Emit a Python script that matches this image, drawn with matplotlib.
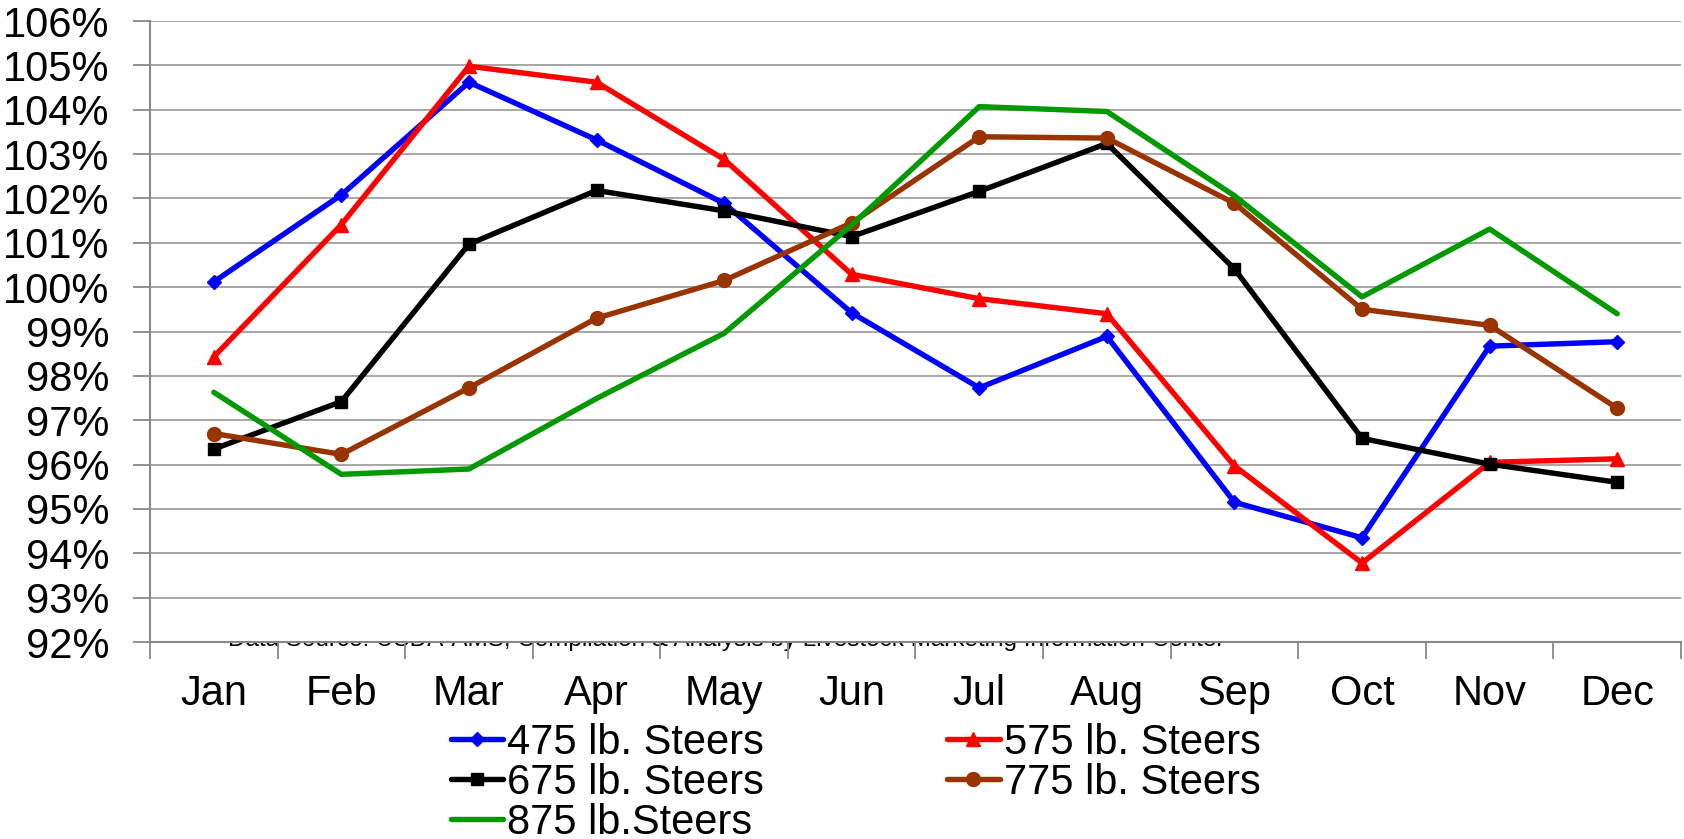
import matplotlib
matplotlib.use('Agg')
import matplotlib.pyplot as plt
from matplotlib.ticker import FixedLocator, FuncFormatter

plt.rcParams['font.family'] = ['Liberation Sans', 'DejaVu Sans']

months = ['Jan', 'Feb', 'Mar', 'Apr', 'May', 'Jun', 'Jul', 'Aug', 'Sep', 'Oct', 'Nov', 'Dec']

# seasonal price index, percent of annual average
steers_475 = [100.12, 102.08, 104.62, 103.32, 101.89, 99.42, 97.73, 98.89, 95.15, 94.35, 98.67, 98.77]
steers_575 = [98.43, 101.41, 104.98, 104.62, 102.88, 100.29, 99.74, 99.40, 95.97, 93.78, 96.05, 96.13]
steers_675 = [96.35, 97.42, 100.97, 102.18, 101.72, 101.14, 102.16, 103.24, 100.41, 96.59, 96.01, 95.60]
steers_775 = [96.70, 96.23, 97.73, 99.30, 100.15, 101.45, 103.39, 103.36, 101.89, 99.50, 99.14, 97.27]
steers_875 = [97.63, 95.78, 95.90, 97.49, 98.96, 101.40, 104.07, 103.96, 102.06, 99.78, 101.31, 99.40]

series = [
    ('475 lb. Steers', steers_475, '#0000ff', 'D', 7),
    ('575 lb. Steers', steers_575, '#ff0000', '^', 10),
    ('675 lb. Steers', steers_675, '#000000', 's', 9),
    ('775 lb. Steers', steers_775, '#993300', 'o', 10),
    ('875 lb.Steers', steers_875, '#009900', None, 0),
]

fig = plt.figure(figsize=(16.84, 8.39), dpi=100)
ax = fig.add_axes([150 / 1684, 1 - 642 / 839, 1531 / 1684, 621 / 839])
ax.set_zorder(1)
ax.set_facecolor('white')

x = list(range(len(months)))
lines = {}
for label, vals, color, marker, ms in series:
    ln, = ax.plot(x, vals, color=color, lw=3.9, marker=marker, markersize=ms,
                  markeredgecolor=color, markerfacecolor=color, label=label,
                  solid_joinstyle='round', solid_capstyle='round')
    lines[label] = ln

ax.set_ylim(92, 106)
ax.set_xlim(-0.5, len(months) - 0.5)
ax.yaxis.set_major_locator(FixedLocator(range(92, 107)))
ax.yaxis.set_major_formatter(FuncFormatter(lambda v, p: '{:.0f}%'.format(v)))
ax.grid(axis='y', color='#a6a6a6', lw=1.4)
ax.set_axisbelow(True)

ax.set_xticks(x)
ax.set_xticklabels(months)
ax.set_xticks([i - 0.5 for i in range(len(months) + 1)], minor=True)
ax.tick_params(axis='x', which='major', length=0, pad=23, labelsize=30)
ax.tick_params(axis='x', which='minor', length=12, width=1.3, color='#888888', direction='out')
ax.tick_params(axis='y', length=12, width=1.3, color='#888888', pad=17, labelsize=30)

for s in ['top', 'right']:
    ax.spines[s].set_visible(False)
for s in ['left', 'bottom']:
    ax.spines[s].set_color('#888888')
    ax.spines[s].set_linewidth(1.5)

# source note sits partly behind the plot area
fig.text(228 / 1684, 1 - 646 / 839,
         'Data Source: USDA-AMS, Compilation & Analysis by Livestock Marketing Information Center',
         fontsize=17.5, va='baseline', ha='left', zorder=0)

order = ['475 lb. Steers', '675 lb. Steers', '875 lb.Steers', '575 lb. Steers', '775 lb. Steers']
fig.legend([lines[k] for k in order], order, loc='upper left',
           bbox_to_anchor=(451 / 1684, 1 - 723 / 839), ncol=2,
           frameon=False, fontsize=30, handlelength=1.25, handletextpad=0.1,
           columnspacing=4.4, labelspacing=0.0, borderaxespad=0, borderpad=0)

fig.savefig('out.png', dpi=100)
